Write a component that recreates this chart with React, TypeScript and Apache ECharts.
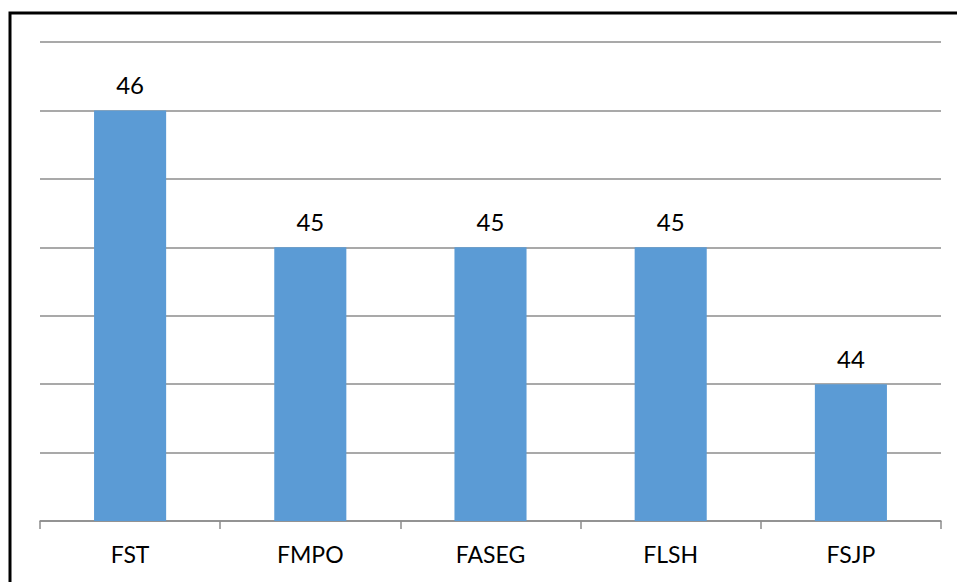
import React, { useEffect, useRef } from "react";
import * as echarts from "echarts";

const categories = ["FST", "FMPO", "FASEG", "FLSH", "FSJP"];
const values = [46, 45, 45, 45, 44];
const yMin = 43;
const yMax = 46.5;
const yInterval = 0.5;

export default function App() {
  const ref = useRef<HTMLDivElement>(null);
  useEffect(() => {
    if (!ref.current) return;
    const chart = echarts.init(ref.current, null, { renderer: "svg" });
    chart.setOption({
      animation: false,
      backgroundColor: "#ffffff",
      textStyle: { fontFamily: "Lato, 'Open Sans', sans-serif" },
      graphic: [
        {
          type: "rect",
          shape: { x: 10, y: 13, width: 1000, height: 700 },
          style: { fill: "none", stroke: "#000000", lineWidth: 3 },
          silent: true,
        },
      ],
      grid: { left: 40, right: 16, top: 42, bottom: 61, containLabel: false },
      xAxis: {
        type: "category",
        data: categories,
        axisLine: { show: true, lineStyle: { color: "#8c8c8c", width: 1.5 } },
        axisTick: { show: true, length: 8, alignWithLabel: false, lineStyle: { color: "#8c8c8c", width: 1.5 } },
        axisLabel: { color: "#000000", fontSize: 23, margin: 21, fontFamily: "Lato, sans-serif" },
      },
      yAxis: {
        type: "value",
        min: yMin,
        max: yMax,
        interval: yInterval,
        axisLine: { show: false },
        axisTick: { show: false },
        axisLabel: { show: false },
        splitLine: { show: true, lineStyle: { color: "#8c8c8c", width: 1.5 } },
      },
      series: [
        {
          type: "bar",
          data: values,
          barWidth: "40%",
          itemStyle: { color: "#5b9bd5" },
          label: {
            show: true,
            position: "top",
            distance: 14,
            color: "#000000",
            fontSize: 24,
            fontFamily: "Lato, sans-serif",
          },
        },
      ],
    });
    return () => chart.dispose();
  }, []);
  return (
    <div
      ref={ref}
      style={{ position: "fixed", left: 0, top: 0, width: 957, height: 582 }}
    />
  );
}
